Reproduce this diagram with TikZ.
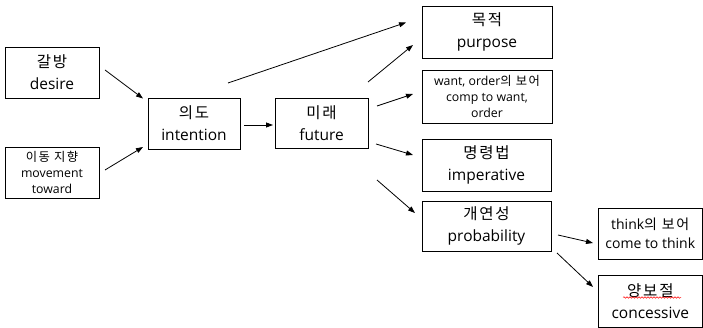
\documentclass[tikz,border=0pt]{standalone}
\usepackage{fontspec}
\setmainfont{Open Sans}
\newfontfamily\kr[LetterSpace=12]{Noto Sans CJK KR}
\usetikzlibrary{arrows.meta,decorations.pathmorphing}
\begin{document}
\begin{tikzpicture}[x=1pt,y=-1pt,
  box/.style={draw,line width=0.8pt,inner sep=0pt,align=center},
  big/.style={font=\fontsize{15.5}{22}\selectfont},
  mid/.style={font=\fontsize{14}{19}\selectfont},
  small/.style={font=\fontsize{12.3}{16}\selectfont},
  arr/.style={-{Triangle[length=7pt,width=5pt]},line width=0.8pt}]
\useasboundingbox (0,0) rectangle (703,328);
\fill[white] (0,0) rectangle (703,328);
% boxes
\node[box,big,minimum width=94pt,minimum height=51pt] (desire) at (52,72.5) {{\kr 갈방}\\desire};
\node[box,small,minimum width=94pt,minimum height=51pt] (movement) at (52,172.5) {{\kr 이동 지향}\\movement\\toward};
\node[box,big,minimum width=92pt,minimum height=51pt] (intention) at (194,123.5) {{\kr 의도}\\intention};
\node[box,big,minimum width=93pt,minimum height=50pt] (future) at (321.5,123) {{\kr 미래}\\future};
\node[box,big,minimum width=130pt,minimum height=52pt] (purpose) at (487,32) {{\kr 목적}\\purpose};
\node[box,small,minimum width=130pt,minimum height=53pt] (want) at (487,96.5) {want, order{\kr 의 보어}\\comp to want,\\order};
\node[box,big,minimum width=129pt,minimum height=52pt] (imperative) at (486.5,165) {{\kr 명령법}\\imperative};
\node[box,big,minimum width=129pt,minimum height=50pt] (probability) at (486.5,226) {{\kr 개연성}\\probability};
\node[box,mid,minimum width=104.5pt,minimum height=51pt] (think) at (650.25,233.5) {think{\kr 의 보어}\\come to think};
\node[box,big,minimum width=104.5pt,minimum height=52pt] (concessive) at (650.25,301) {{\kr 양보절}\\concessive};
% spell-check underline
\draw[red,line width=0.5pt,decorate,decoration={snake,segment length=3pt,amplitude=0.8pt}] (623,297.5) -- (681,297.5);
% connector end points
\coordinate (s1) at (105,70);   \coordinate (e1) at (143,98.5);
\coordinate (s2) at (105,170);  \coordinate (e2) at (143,147);
\coordinate (s3) at (244,125);  \coordinate (e3) at (273,125);
\coordinate (s4) at (228,83);   \coordinate (e4) at (406,22.5);
\coordinate (s5) at (368,82);   \coordinate (e5) at (413,45);
\coordinate (s6) at (377,106);  \coordinate (e6) at (413,94);
\coordinate (s7) at (376,144);  \coordinate (e7) at (413,155);
\coordinate (s8) at (377,180);  \coordinate (e8) at (415,213);
\coordinate (s9) at (558,235);  \coordinate (e9) at (593,243);
\coordinate (s10) at (557,253); \coordinate (e10) at (593,287);
\draw[arr] (s1) -- (e1);
\draw[arr] (s2) -- (e2);
\draw[arr] (s3) -- (e3);
\draw[arr] (s4) -- (e4);
\draw[arr] (s5) -- (e5);
\draw[arr] (s6) -- (e6);
\draw[arr] (s7) -- (e7);
\draw[arr] (s8) -- (e8);
\draw[arr] (s9) -- (e9);
\draw[arr] (s10) -- (e10);
\end{tikzpicture}
\end{document}
